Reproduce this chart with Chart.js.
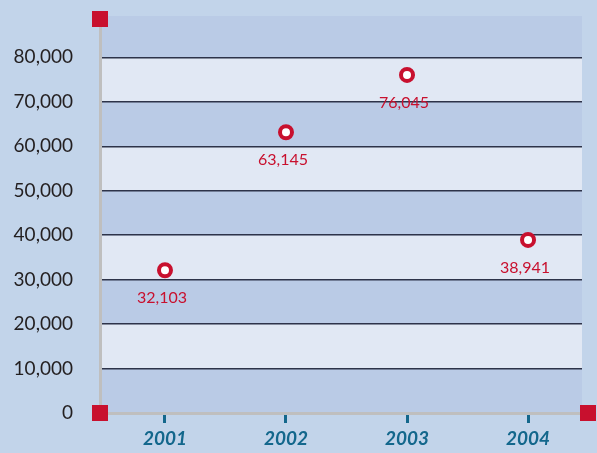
<!DOCTYPE html>
<html>
<head>
<meta charset="utf-8">
<script src="https://cdn.jsdelivr.net/npm/chart.js@4"></script>
<style>
html, body { margin: 0; padding: 0; background: #c2d4ea; }
#wrap { width: 597px; height: 453px; }
</style>
</head>
<body>
<div id="wrap"><canvas id="myChart"></canvas></div>
<script>
// data
const years = [2001, 2002, 2003, 2004];
const sales = [32103, 63145, 76045, 38941];
const yTicks = [0, 10000, 20000, 30000, 40000, 50000, 60000, 70000, 80000];

const red = '#c8102e';
const teal = '#13678c';

// alternating bands behind the grid
const bands = {
    id: 'bands',
    beforeDraw(chart) {
        const { ctx, chartArea: a, scales: { y } } = chart;
        ctx.save();
        for (let i = 0; i * 10000 < y.max; i++) {
            const top = y.getPixelForValue(Math.min((i + 1) * 10000, y.max));
            const bot = y.getPixelForValue(i * 10000);
            ctx.fillStyle = i % 2 === 0 ? '#bacbe6' : '#e1e8f4';
            ctx.fillRect(a.left, top, a.right - a.left, bot - top);
        }
        ctx.restore();
    }
};

// value labels under the points + red corner squares
const extras = {
    id: 'extras',
    afterDatasetsDraw(chart) {
        const { ctx, chartArea: a } = chart;
        const meta = chart.getDatasetMeta(0);
        ctx.save();
        ctx.font = '16px Lato';
        ctx.fillStyle = red;
        ctx.textAlign = 'center';
        ctx.textBaseline = 'top';
        meta.data.forEach((pt, i) => {
            ctx.fillText(sales[i].toLocaleString('en-US'), pt.x - 3, pt.y + 20);
        });
        ctx.fillStyle = red;
        const s = 16;
        ctx.fillRect(a.left - 8, a.top - 5, s, s);
        ctx.fillRect(a.left - 8, a.bottom - 8, s, s);
        ctx.fillRect(a.right - 2, a.bottom - 8, s, s);
        ctx.restore();
    }
};

const config = {
    type: 'scatter',
    data: {
        datasets: [{
            data: years.map((yr, i) => ({ x: yr, y: sales[i] })),
            pointRadius: 6,
            pointBorderWidth: 4,
            pointBackgroundColor: '#ffffff',
            pointBorderColor: red,
            showLine: false
        }]
    },
    options: {
        responsive: true,
        maintainAspectRatio: false,
        animation: false,
        events: [],
        layout: { padding: { top: 16, right: 15 } },
        plugins: {
            legend: false,
            tooltip: { enabled: false }
        },
        scales: {
            x: {
                type: 'linear',
                min: 2000.463,
                max: 2004.446,
                afterBuildTicks: s => { s.ticks = years.map(v => ({ value: v })); },
                afterFit: s => {
                    s.height = 40;
                    s.paddingLeft = 0;
                    s.paddingRight = 0;
                },
                border: { color: '#bfbfbf', width: 3 },
                grid: {
                    drawOnChartArea: false,
                    tickLength: 10,
                    tickWidth: 3,
                    tickColor: teal
                },
                ticks: {
                    padding: 4,
                    color: teal,
                    font: { family: 'Lato', size: 19, weight: 'bold', style: 'italic' },
                    callback: v => String(v)
                }
            },
            y: {
                min: 0,
                max: 89300,
                afterBuildTicks: s => { s.ticks = yTicks.map(v => ({ value: v })); },
                afterFit: s => {
                    s.width = 100;
                    s.paddingTop = 0;
                    s.paddingBottom = 0;
                },
                border: { color: '#bfbfbf', width: 3 },
                grid: {
                    drawTicks: false,
                    lineWidth: 1.5,
                    color: ctx => ctx.tick && ctx.tick.value === 0 ? 'rgba(0,0,0,0)' : '#2d3349'
                },
                ticks: {
                    padding: 27,
                    color: '#231f20',
                    font: { family: 'Lato', size: 19 },
                    callback: v => v.toLocaleString('en-US')
                }
            }
        }
    },
    plugins: [bands, extras]
};

const myChart = new Chart(document.getElementById('myChart'), config);
</script>
</body>
</html>
